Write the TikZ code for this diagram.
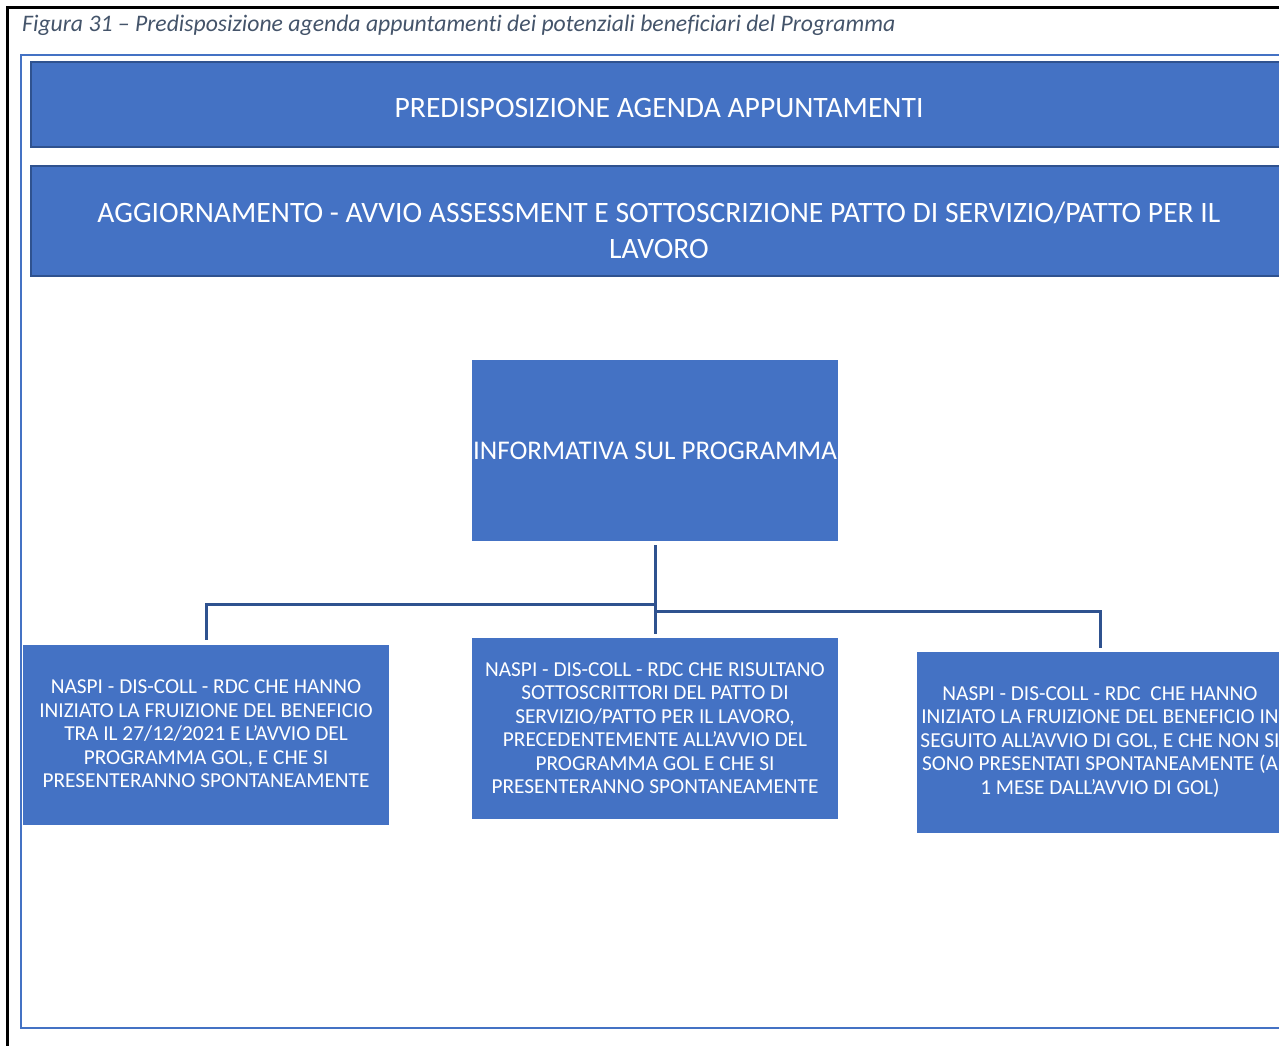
\documentclass[tikz,border=0pt]{standalone}
\usepackage{fontspec}
\setmainfont{Carlito}[Ligatures={TeX,NoCommon}]
\definecolor{boxfill}{HTML}{4472C4}
\definecolor{boxline}{HTML}{2F528F}
\definecolor{capgrey}{HTML}{44546A}
\begin{document}
\begin{tikzpicture}[x=1pt,y=1pt,
  bigbox/.style={draw=boxline, line width=2.5pt, fill=boxfill, inner sep=0pt},
  flatbox/.style={fill=boxfill, inner sep=0pt},
  bigtxt/.style={text=white, align=center, font=\fontsize{29.6}{36}\selectfont},
  smalltxt/.style={text=white, align=center, font=\fontsize{21.3}{23.5}\selectfont},
  conn/.style={draw=boxline, line width=3pt}]
\useasboundingbox (0,0) rectangle (1279,-1046);
\clip (0,0) rectangle (1279,-1046);
% frames
\draw[line width=3pt] (7,-1050) -- (7,-8) -- (1290,-8);
\draw[draw=boxfill, line width=2pt] (1295,-55) -- (21,-55) -- (21,-1028) -- (1295,-1028);
% caption
\node[anchor=west, text=capgrey, font=\fontsize{23.7}{28}\selectfont\itshape, inner sep=0pt] (cap) at (22,-25) {Figura 31 – Predisposizione agenda appuntamenti dei potenziali beneficiari del Programma};
% top boxes
\node[bigbox, minimum width=1256pt, minimum height=85pt] (pred) at (659,-104.5) {};
\node[bigtxt] (predt) at (659,-108) {PREDISPOSIZIONE AGENDA APPUNTAMENTI};
\node[bigbox, minimum width=1256pt, minimum height=110pt] (agg) at (659,-221) {};
\node[bigtxt] (aggt) at (659,-230) {AGGIORNAMENTO - AVVIO ASSESSMENT E SOTTOSCRIZIONE PATTO DI SERVIZIO/PATTO PER IL\\LAVORO};
% info box
\node[flatbox, minimum width=366pt, minimum height=181pt, text=white, font=\fontsize{27}{32}\selectfont] (info) at (655,-450.5) {INFORMATIVA SUL PROGRAMMA};
% bottom boxes
\node[flatbox, minimum width=366pt, minimum height=180pt] (L) at (206,-735) {};
\node[smalltxt] (Lt) at (206,-734) {NASPI - DIS-COLL - RDC CHE HANNO\\INIZIATO LA FRUIZIONE DEL BENEFICIO\\TRA IL 27/12/2021 E L’AVVIO DEL\\PROGRAMMA GOL, E CHE SI\\PRESENTERANNO SPONTANEAMENTE};
\node[flatbox, minimum width=366pt, minimum height=181pt] (M) at (655,-728.5) {};
\node[smalltxt] (Mt) at (655,-728) {NASPI - DIS-COLL - RDC CHE RISULTANO\\SOTTOSCRITTORI DEL PATTO DI\\SERVIZIO/PATTO PER IL LAVORO,\\PRECEDENTEMENTE ALL’AVVIO DEL\\PROGRAMMA GOL E CHE SI\\PRESENTERANNO SPONTANEAMENTE};
\node[flatbox, minimum width=366pt, minimum height=181pt] (R) at (1100,-742.5) {};
\node[smalltxt] (Rt) at (1100,-742) {NASPI - DIS-COLL - RDC\ \ CHE HANNO\\INIZIATO LA FRUIZIONE DEL BENEFICIO IN\\SEGUITO ALL’AVVIO DI GOL, E CHE NON SI\\SONO PRESENTATI SPONTANEAMENTE (A\\1 MESE DALL'AVVIO DI GOL)};
% connectors
\coordinate (jl) at (655,-604);
\coordinate (jr) at (655,-611);
\draw[conn] ([yshift=-4pt]info.south) -- ([yshift=4pt]M.north);
\draw[conn] (jl) -- (jl -| L.north) -- ([yshift=5pt]L.north);
\draw[conn] (jr) -- (jr -| R.north) -- ([yshift=4pt]R.north);
\end{tikzpicture}
\end{document}
